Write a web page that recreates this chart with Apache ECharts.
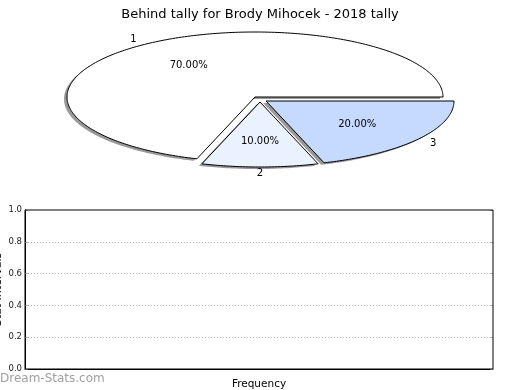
<!DOCTYPE html>
<html>
<head>
<meta charset="utf-8">
<script src="https://cdn.jsdelivr.net/npm/echarts@6/dist/echarts.min.js"></script>
<style>
html,body{margin:0;padding:0;background:#fff;}
#chart{width:520px;height:390px;}
</style>
</head>
<body>
<div id="chart"></div>
<script>
// ---- data ----
var titleText = 'Behind tally for Brody Mihocek - 2018 tally';
var sliceNames = ['1', '2', '3'];
var sliceValues = [70, 10, 20];
var yTickValues = [0.0, 0.2, 0.4, 0.6, 0.8, 1.0];
var frequencyCategories = [];
var frequencyValues = [];

// ---- style ----
var FONT = '"DejaVu Sans", "Liberation Sans", sans-serif';
var sliceColors = ['#ffffff', '#eaf1ff', '#c6d9ff'];
var pieCenter = [255, 97];
var pieRadius = [188, 65];
var explodeDX = [0, 5, 11];
var explodeDY = [0, 5, 4];

var total = sliceValues.reduce(function (a, b) { return a + b; }, 0);
var startFrac = [];
(function () { var acc = 0; for (var i = 0; i < sliceValues.length; i++) { startFrac.push(acc); acc += sliceValues[i] / total; } })();

function ellPt(cx, cy, deg, f) {
  var r = deg * Math.PI / 180;
  return [cx + f * pieRadius[0] * Math.cos(r), cy - f * pieRadius[1] * Math.sin(r)];
}

function renderSlice(params, api) {
  var i = params.dataIndex;
  var v = api.value(0);
  var a0 = startFrac[i] * 360;
  var a1 = a0 + v / total * 360;
  var cx = pieCenter[0] + explodeDX[i];
  var cy = pieCenter[1] + explodeDY[i];
  var pts = [[cx, cy]];
  var steps = Math.max(2, Math.ceil((a1 - a0) / 1));
  for (var k = 0; k <= steps; k++) {
    pts.push(ellPt(cx, cy, a0 + (a1 - a0) * k / steps, 1));
  }
  var mid = (a0 + a1) / 2;
  var lp = ellPt(cx, cy, mid, 1.1);
  var pp = ellPt(cx, cy, mid, 0.6);
  var shadowPts = pts.map(function (p) { return [p[0] - 3, p[1] + 2]; });
  return {
    type: 'group',
    children: [
      { type: 'polygon', shape: { points: shadowPts }, style: { fill: 'rgba(0,0,0,0.4)', stroke: 'none' }, z2: 0 },
      { type: 'polygon', shape: { points: pts }, style: { fill: sliceColors[i], stroke: '#000', lineWidth: 1 }, z2: 1 },
      { type: 'text', x: pp[0], y: pp[1], style: { text: (v / total * 100).toFixed(2) + '%', fill: '#000', font: '10px ' + FONT, align: 'center', verticalAlign: 'middle' }, z2: 5 },
      { type: 'text', x: lp[0], y: lp[1], style: { text: sliceNames[i], fill: '#000', font: '10px ' + FONT, align: 'center', verticalAlign: 'middle' }, z2: 5 }
    ]
  };
}

var chart = echarts.init(document.getElementById('chart'), null, { renderer: 'canvas' });
chart.setOption({
  backgroundColor: '#fff',
  animation: false,
  title: {
    text: titleText, left: 'center', top: 3,
    textStyle: { fontFamily: FONT, fontSize: 13, fontWeight: 'normal', color: '#000' }
  },
  graphic: [{
    type: 'text', left: 0, top: 373,
    style: { text: 'Dream-Stats.com', fill: '#a0a0a0', font: '12px ' + FONT }
  }],
  grid: { left: 25, right: 27, top: 210, bottom: 21, containLabel: false, outerBoundsMode: 'none', show: true, borderColor: '#000', borderWidth: 1, backgroundColor: 'transparent', z: 3 },
  xAxis: {
    type: 'category', data: frequencyCategories,
    name: 'Frequency', nameLocation: 'middle', nameGap: 10,
    nameTextStyle: { fontFamily: FONT, fontSize: 10.5, color: '#000' },
    axisLine: { show: true, lineStyle: { color: '#000' } },
    axisTick: { show: false }, axisLabel: { show: false }, splitLine: { show: false }
  },
  yAxis: [{
    type: 'value', min: yTickValues[0], max: yTickValues[yTickValues.length - 1], interval: 0.2,
    name: 'Stat Intervals', nameLocation: 'middle', nameGap: 21, nameRotate: 90, nameMoveOverlap: false,
    nameTextStyle: { fontFamily: FONT, fontSize: 11, color: '#000' },
    axisLine: { show: true, lineStyle: { color: '#000' } },
    axisTick: { show: true, inside: true, length: 3, lineStyle: { color: '#aaa' } },
    axisLabel: { fontFamily: FONT, fontSize: 8.5, color: '#222', margin: 3, formatter: function (v) { return v.toFixed(1); } },
    splitLine: { show: true, showMinLine: false, showMaxLine: false, lineStyle: { color: '#bbbbbb', type: [1, 2], width: 1 } }
  }, {
    type: 'value', position: 'right', min: yTickValues[0], max: yTickValues[yTickValues.length - 1], interval: 0.2,
    axisLine: { show: false },
    axisTick: { show: true, inside: true, length: 3, lineStyle: { color: '#aaa' } },
    axisLabel: { show: false }, splitLine: { show: false }
  }],
  series: [{
    type: 'custom', coordinateSystem: 'none', renderItem: renderSlice,
    data: sliceValues.map(function (v) { return [v]; }), z: 10
  }, {
    type: 'bar', data: frequencyValues, xAxisIndex: 0, yAxisIndex: 0
  }]
});
</script>
</body>
</html>
